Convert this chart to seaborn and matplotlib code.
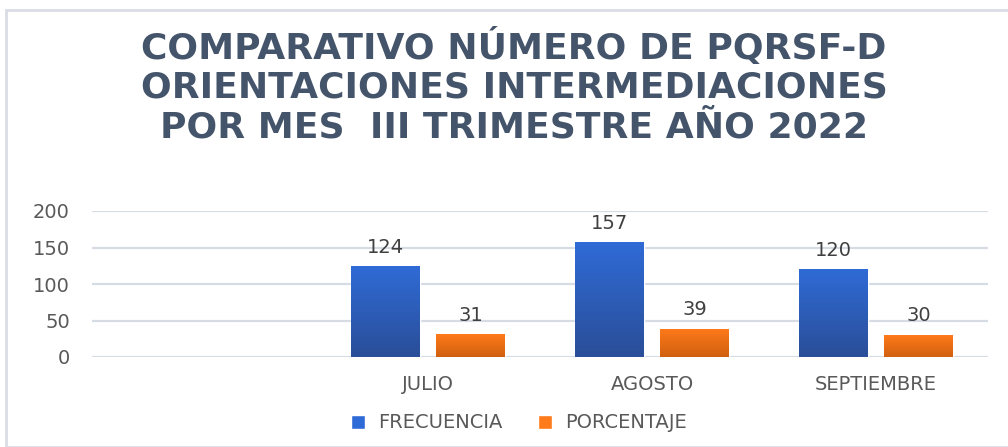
import numpy as np
import pandas as pd
import matplotlib
matplotlib.use("Agg")
import matplotlib.pyplot as plt
import seaborn as sns
from matplotlib.patches import Rectangle
from matplotlib.colors import LinearSegmentedColormap

# ===== datos =====
meses = ["JULIO", "AGOSTO", "SEPTIEMBRE"]
frecuencia = [124, 157, 120]
porcentaje = [31, 39, 30]
series = ["FRECUENCIA", "PORCENTAJE"]
orden = [""] + meses  # la primera categoria va vacia, como en el original

df = pd.DataFrame({
    "mes": meses * 2,
    "serie": [series[0]] * 3 + [series[1]] * 3,
    "valor": frecuencia + porcentaje,
})

azul_top, azul_bot = "#2F6BD6", "#2A4E98"
nar_top, nar_bot = "#FF7A1A", "#D0600F"
gris_txt = "#595959"
titulo_col = "#44546A"

sns.set_style("white")
plt.rcParams["font.family"] = ["DejaVu Sans"]

fig = plt.figure(figsize=(10.08, 4.47), dpi=100)
ax = fig.add_axes([92 / 1008, 1 - 357 / 447, (988 - 92) / 1008, (357 - 211) / 447])

sns.barplot(data=df, x="mes", y="valor", hue="serie", order=orden,
            hue_order=series, palette=[azul_top, nar_top], width=0.76,
            gap=0.19, ax=ax, errorbar=None, saturation=1)

ax.set_ylim(0, 200)
ax.set_yticks([0, 50, 100, 150, 200])
ax.grid(axis="y", color="#D6DBE4", linewidth=1.6)
ax.set_axisbelow(True)
sns.despine(ax=ax, left=True, bottom=True)
ax.tick_params(axis="both", length=0, labelsize=14, colors=gris_txt)
ax.tick_params(axis="y", pad=16)
ax.tick_params(axis="x", pad=13)
ax.set_xlabel("")
ax.set_ylabel("")

# degradado vertical dentro de cada barra
grad = np.linspace(0, 1, 256).reshape(-1, 1)
cmaps = [LinearSegmentedColormap.from_list("a", [azul_bot, azul_top]),
         LinearSegmentedColormap.from_list("n", [nar_bot, nar_top])]
for cont, cm in zip(ax.containers, cmaps):
    for p in cont.patches:
        h = p.get_height()
        if not np.isfinite(h) or h == 0:
            continue
        x0 = p.get_x()
        im = ax.imshow(grad, extent=[x0, x0 + p.get_width(), 0, h],
                       origin="lower", cmap=cm, aspect="auto", zorder=p.get_zorder() + 0.1)
        im.set_clip_path(p)
    labels = [f"{v:.0f}" if np.isfinite(v) else "" for v in cont.datavalues]
    ax.bar_label(cont, labels=labels, padding=7, fontsize=14, color="#404040")
ax.set_xlim(-0.5, len(orden) - 0.5)
ax.set_ylim(0, 200)

sns.move_legend(ax, "center", bbox_to_anchor=(0.515, 1 - 423 / 447),
                bbox_transform=fig.transFigure, ncol=2, frameon=False,
                title=None, fontsize=14, handlelength=0.7, handleheight=0.7,
                columnspacing=1.8, handletextpad=0.7)
for t in ax.get_legend().get_texts():
    t.set_color(gris_txt)

# titulo
lineas = ["COMPARATIVO NÚMERO DE PQRSF-D",
          "ORIENTACIONES INTERMEDIACIONES",
          "POR MES  III TRIMESTRE AÑO 2022"]
for i, l in enumerate(lineas):
    fig.text(0.51, 1 - (47 + 40 * i) / 447, l, ha="center", va="center",
             fontsize=26, fontweight="bold", color=titulo_col)

# borde del grafico
fig.patches.append(Rectangle((6 / 1008, 0), 1, 1 - 10 / 447, transform=fig.transFigure,
                             fill=False, edgecolor="#D9DDE3", linewidth=2))

fig.savefig("out.png", dpi=100)
